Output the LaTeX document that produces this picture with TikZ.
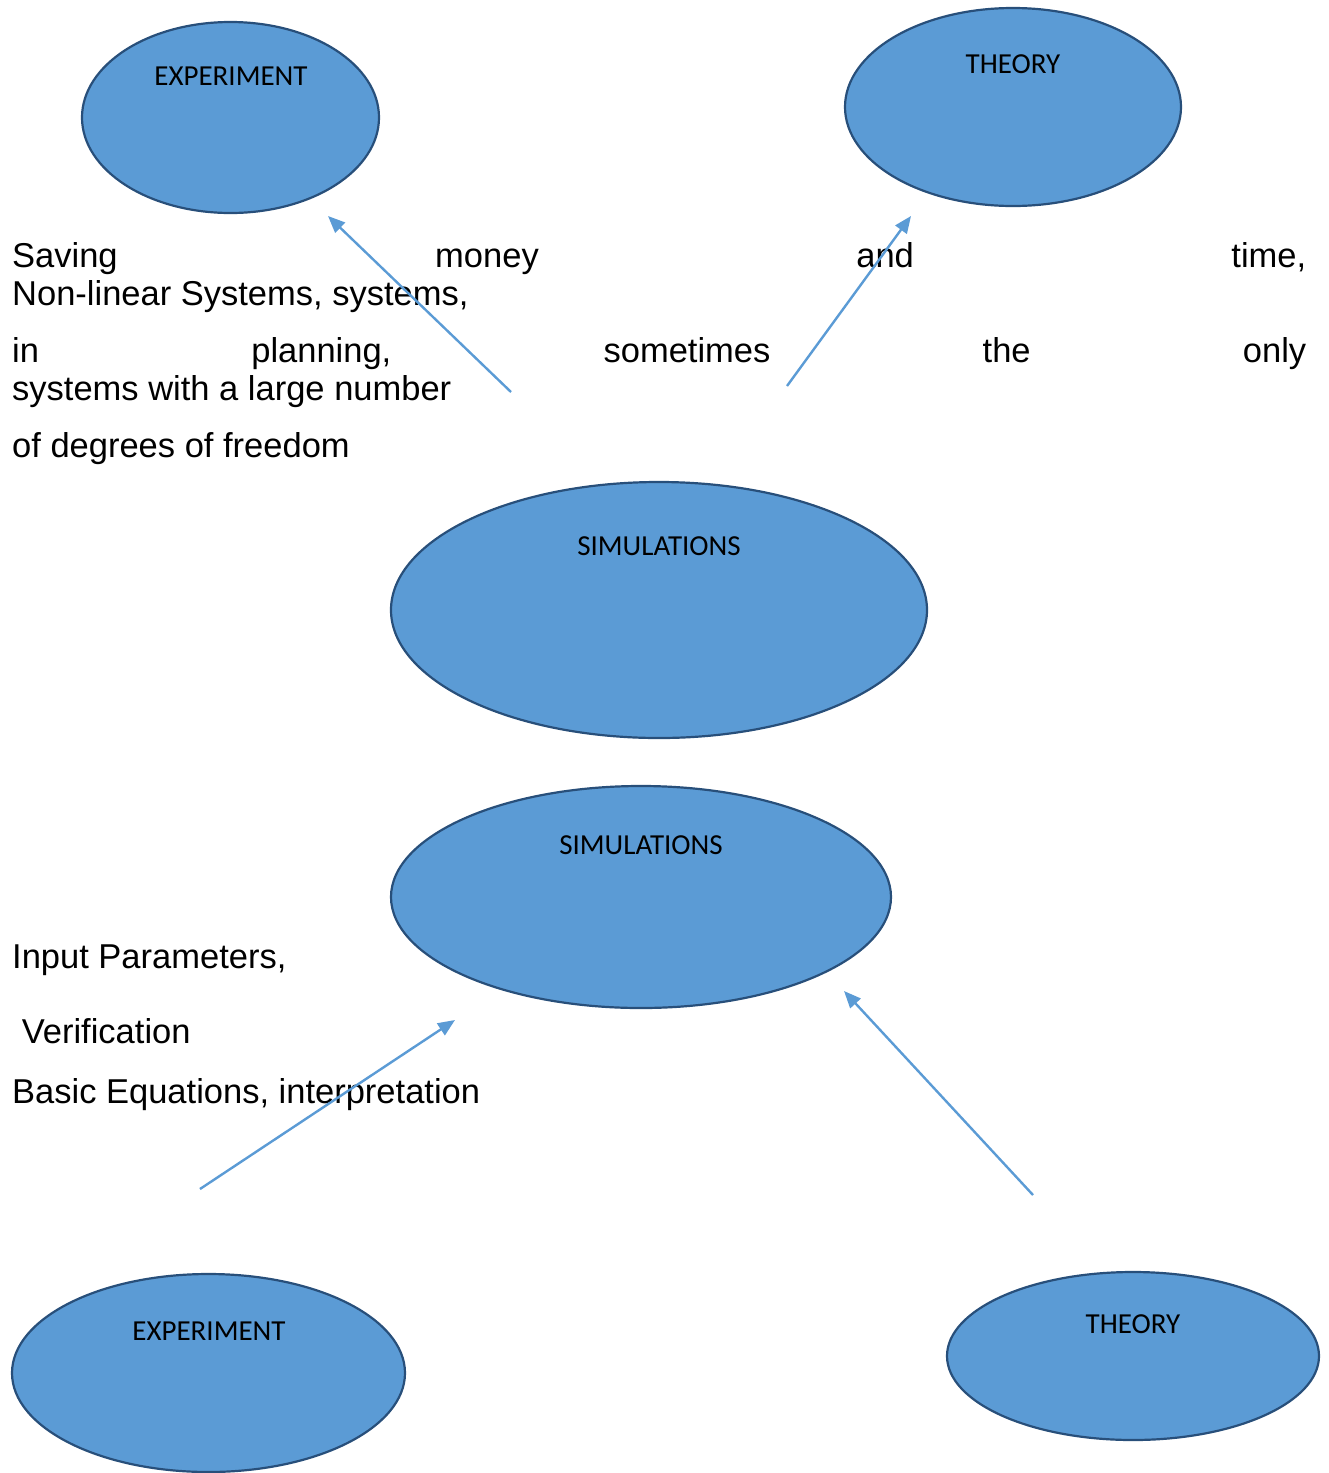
\documentclass[tikz,border=0pt]{standalone}
\usepackage{fontspec}
\setmainfont{Liberation Sans}
\newfontfamily\labelfont{Carlito}
\usetikzlibrary{shapes.geometric,arrows.meta}

\definecolor{blobfill}{HTML}{5B9BD5}
\definecolor{blobline}{HTML}{284F7A}
\definecolor{linkcol}{HTML}{5B9BD5}

\tikzset{
  blob/.style={ellipse, draw=blobline, fill=blobfill, line width=2.2pt, inner sep=0pt},
  blobtext/.style={inner sep=0pt, anchor=center, font=\labelfont\fontsize{29}{34}\selectfont},
  bodyline/.style={inner sep=0pt, anchor=base west, font=\fontsize{34.5}{40}\selectfont},
  link/.style={draw=linkcol, line width=2.4pt, -{Triangle[length=17pt,width=14pt]}}
}

\begin{document}
\begin{tikzpicture}[x=1pt,y=-1pt]
\useasboundingbox (0,0) rectangle (1329,1473);

% upper group
\node[blob, minimum width=297pt, minimum height=191pt] (expA) at (230.5,117.5) {};
\node[blobtext] (expAlabel) at (231,76) {EXPERIMENT};
\node[blob, minimum width=336pt, minimum height=198pt] (thA) at (1013,107) {};
\node[blobtext] (thAlabel) at (1013,64) {THEORY};
\node[blob, minimum width=536pt, minimum height=256pt] (simA) at (659,610) {};
\node[blobtext] (simAlabel) at (659,546) {SIMULATIONS};

\node[bodyline] (t1) at (12,267) {\hbox to 1294pt{Saving\hfill money\hfill and\hfill time,}};
\node[bodyline] (t2) at (12,305) {Non-linear Systems, systems,};
\node[bodyline] (t3) at (12,362) {\hbox to 1294pt{in\hfill planning,\hfill sometimes\hfill the\hfill only}};
\node[bodyline] (t4) at (12,400) {systems with a large number};
\node[bodyline] (t5) at (12,457) {of degrees of freedom};

\coordinate (a1s) at (511,392);
\coordinate (a1e) at (328,216);
\coordinate (a2s) at (787,386);
\coordinate (a2e) at (911,216);
\draw[link] (a1s) -- (a1e);
\draw[link] (a2s) -- (a2e);

% lower group
\node[blob, minimum width=500pt, minimum height=222pt] (simB) at (641,897) {};
\node[blobtext] (simBlabel) at (641,845) {SIMULATIONS};
\node[blob, minimum width=393pt, minimum height=198pt] (expB) at (208.5,1373) {};
\node[blobtext] (expBlabel) at (209,1331) {EXPERIMENT};
\node[blob, minimum width=372pt, minimum height=168pt] (thB) at (1133,1356) {};
\node[blobtext] (thBlabel) at (1133,1324) {THEORY};

\node[bodyline] (u1) at (12,968) {Input Parameters,};
\node[bodyline] (u2) at (12,1043) {\ Verification};
\node[bodyline] (u3) at (12,1103) {Basic Equations, interpretation};

\coordinate (b1s) at (200,1189);
\coordinate (b1e) at (455,1020);
\coordinate (b2s) at (1033,1195);
\coordinate (b2e) at (844,991);
\draw[link] (b1s) -- (b1e);
\draw[link] (b2s) -- (b2e);
\end{tikzpicture}
\end{document}
